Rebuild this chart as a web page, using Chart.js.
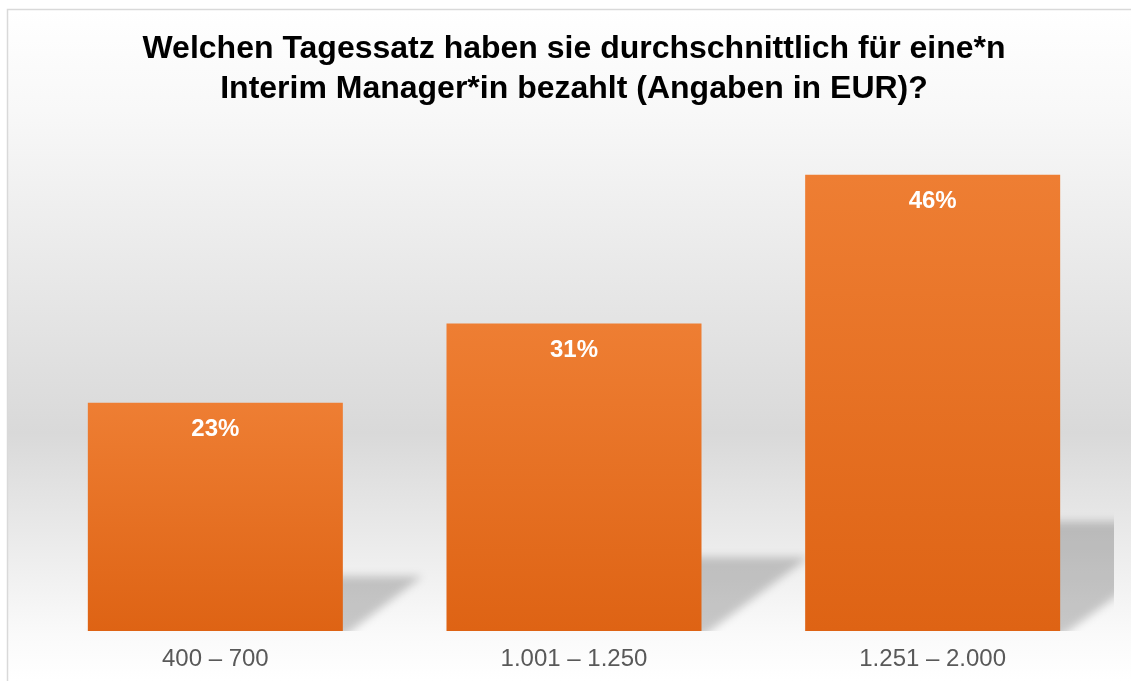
<!DOCTYPE html>
<html>
<head>
<meta charset="utf-8">
<script src="https://cdn.jsdelivr.net/npm/chart.js@4"></script>
<style>
  html, body { margin: 0; padding: 0; background: #fff; }
  #wrap { width: 1131px; height: 681px; }
</style>
</head>
<body>
<div id="wrap"><canvas id="tagessatz-chart" width="1131" height="681"></canvas></div>
<script>
// Tagessatz-Umfrage

const categories = ['400 – 700', '1.001 – 1.250', '1.251 – 2.000'];
const shares = [23, 31, 46];
const titleLines = ['Welchen Tagessatz haben sie durchschnittlich für eine*n', 'Interim Manager*in bezahlt (Angaben in EUR)?'];

const ctx = document.getElementById('tagessatz-chart').getContext('2d');

// Hintergrund mit Verlauf und Rahmen
const backgroundPlugin = {
    id: 'background',
    beforeDraw(chart) {
        const c = chart.ctx;
        c.save();
        c.fillStyle = '#ffffff';
        c.fillRect(0, 0, chart.width, chart.height);
        const g = c.createLinearGradient(0, 10, 0, chart.height);
        g.addColorStop(0, '#ffffff');
        g.addColorStop(0.15, '#f8f8f8');
        g.addColorStop(0.63, '#d9d9d9');
        g.addColorStop(0.93, '#fafafa');
        g.addColorStop(1, '#ffffff');
        c.fillStyle = g;
        c.fillRect(8, 10, chart.width - 8, chart.height - 10);
        c.strokeStyle = '#d9d9d9';
        c.lineWidth = 1.5;
        c.beginPath();
        c.moveTo(7.5, chart.height);
        c.lineTo(7.5, 9.5);
        c.lineTo(chart.width, 9.5);
        c.stroke();
        c.restore();
    }
};

// Perspektivischer Schatten hinter den Balken
const shadowPlugin = {
    id: 'barShadow',
    beforeDatasetsDraw(chart) {
        const c = chart.ctx;
        const area = chart.chartArea;
        const meta = chart.getDatasetMeta(0);
        c.save();
        c.beginPath();
        c.rect(area.left, area.top, area.right - area.left + 2, area.bottom - area.top);
        c.clip();
        c.filter = 'blur(4px)';
        c.fillStyle = 'rgba(0, 0, 0, 0.2)';
        meta.data.forEach(bar => {
            const left = bar.x - bar.width / 2;
            const right = bar.x + bar.width / 2;
            const h = (bar.base - bar.y) * 0.24;
            const dx = h * 1.45;
            c.beginPath();
            c.moveTo(left, bar.base + 6);
            c.lineTo(right, bar.base + 6);
            c.lineTo(right + dx, bar.base - h);
            c.lineTo(left + dx, bar.base - h);
            c.closePath();
            c.fill();
        });
        c.restore();
    }
};

// Prozentwerte in den Balken
const valueLabelPlugin = {
    id: 'valueLabels',
    afterDatasetsDraw(chart) {
        const c = chart.ctx;
        const meta = chart.getDatasetMeta(0);
        c.save();
        c.fillStyle = '#ffffff';
        c.font = 'bold 24px "Liberation Sans", Arial, sans-serif';
        c.textAlign = 'center';
        c.textBaseline = 'middle';
        meta.data.forEach((bar, i) => {
            c.fillText(shares[i] + '%', bar.x, bar.y + 27);
        });
        c.restore();
    }
};

function barGradient(context) {
    const chart = context.chart;
    if (!chart.chartArea || !chart.scales.y) return '#e8722a';
    const top = chart.scales.y.getPixelForValue(context.raw);
    const bottom = chart.scales.y.getPixelForValue(0);
    const g = chart.ctx.createLinearGradient(0, top, 0, bottom);
    g.addColorStop(0, '#ee7e33');
    g.addColorStop(1, '#de6314');
    return g;
}

const config = {
    type: 'bar',
    data: {
        labels: categories,
        datasets: [{
            label: 'Anteil',
            data: shares,
            backgroundColor: barGradient,
            borderWidth: 0,
            categoryPercentage: 0.711,
            barPercentage: 1
        }]
    },
    options: {
        responsive: false,
        animation: false,
        layout: {
            padding: { left: 36, right: 19, top: 9, bottom: 0 }
        },
        plugins: {
            legend: { display: false },
            tooltip: { enabled: false },
            title: {
                display: true,
                text: titleLines,
                color: '#000000',
                font: { family: '"Liberation Sans", Arial, sans-serif', size: 32, weight: 'bold', lineHeight: 1.25 },
                padding: { top: 20, bottom: 26 }
            }
        },
        scales: {
            x: {
                grid: { display: false, drawTicks: false },
                border: { display: false },
                afterFit(scale) { scale.height = 50; },
                ticks: {
                    color: '#595959',
                    padding: 14,
                    font: { family: '"Liberation Sans", Arial, sans-serif', size: 24 }
                }
            },
            y: {
                display: false,
                min: 0,
                max: 50
            }
        }
    },
    plugins: [backgroundPlugin, shadowPlugin, valueLabelPlugin]
};

const tagessatzChart = new Chart(ctx, config);
</script>
</body>
</html>
